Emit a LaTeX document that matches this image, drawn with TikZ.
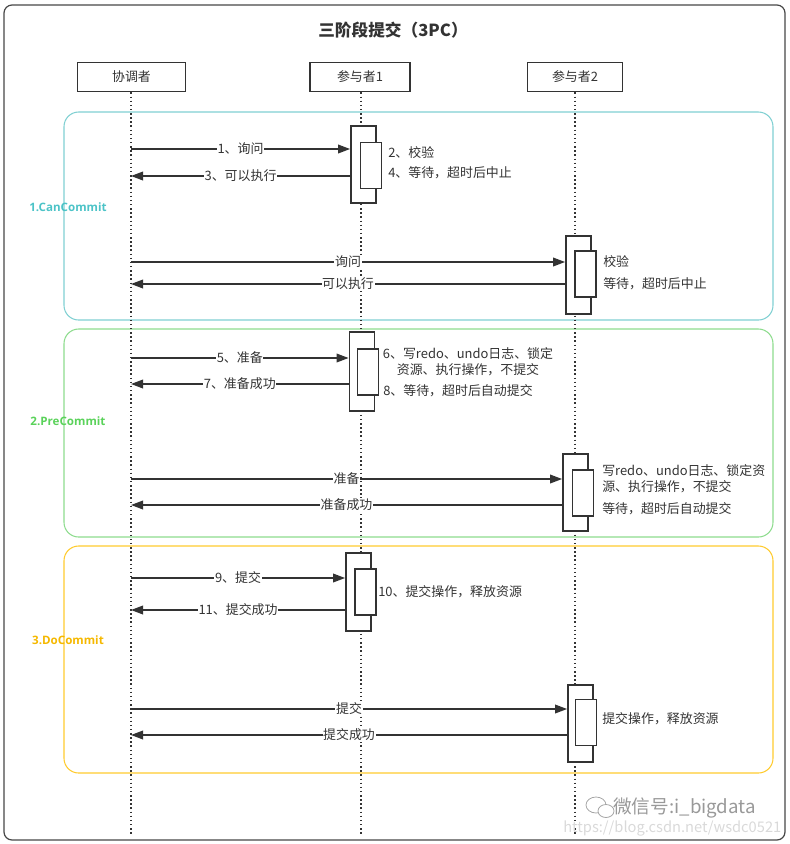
\documentclass[tikz,border=0pt]{standalone}
\usepackage{fontspec}
\setmainfont{Noto Sans CJK SC}
\newfontfamily\latinlbl{Open Sans}
\usetikzlibrary{arrows.meta}
\definecolor{ink}{HTML}{333333}
\definecolor{tealbox}{HTML}{80D0D2}
\definecolor{teallbl}{HTML}{4CC3C7}
\definecolor{greenbox}{HTML}{8EDC8E}
\definecolor{greenlbl}{HTML}{5AD25A}
\definecolor{yellowbox}{HTML}{FFCB2E}
\definecolor{yellowlbl}{HTML}{F5B800}
\tikzset{
  every node/.style={font=\fontsize{9.7pt}{12pt}\selectfont, text=ink},
  header/.style={draw=ink, line width=1.1pt, fill=white, minimum width=81pt, minimum height=22pt, inner sep=0pt},
  lifeline/.style={draw=ink, line width=1.1pt, dash pattern=on 1.1pt off 2pt},
  actouter/.style={draw=ink, line width=1.1pt, fill=white, inner sep=0pt, minimum width=19pt},
  actinner/.style={draw=ink, line width=1.1pt, fill=white, inner sep=0pt, minimum width=15.5pt, minimum height=34.5pt},
  msg/.style={draw=ink, line width=1.1pt, -{Triangle[length=9pt,width=6.5pt]}},
  msglbl/.style={fill=white, inner sep=0.5pt, midway},
  note/.style={anchor=west, inner sep=0pt},
  phase/.style={rounded corners=11pt, line width=0.8pt},
  phaselbl/.style={font=\latinlbl\bfseries\fontsize{8.7pt}{10pt}\selectfont, inner sep=0pt}
}
\begin{document}
\begin{tikzpicture}[x=0.75pt,y=-0.75pt]
\useasboundingbox (0,0) rectangle (790,844);
% outer frame
\draw[draw=ink!90, line width=0.9pt, rounded corners=6pt] (4,5) rectangle (785,840);
\node[font=\bfseries\fontsize{12.5pt}{14pt}\selectfont] (title) at (393,30) {三阶段提交（3PC）};

% phase boxes
\draw[phase, draw=tealbox] (64,112) rectangle (773,320);
\draw[phase, draw=greenbox] (64,329) rectangle (773,537);
\draw[phase, draw=yellowbox] (64,546) rectangle (773,773);

% headers
\node[header] (h0) at (131.5,77) {协调者};
\node[header, minimum width=75pt] (h1) at (360,77) {参与者1};
\node[header, minimum width=71pt] (h2) at (575,77) {参与者2};

% lifelines
\coordinate (e0) at (131,835);
\coordinate (e1) at (361,835);
\coordinate (e2) at (575,835);
\draw[lifeline] (h0.south -| e0) -- (e0);
\draw[lifeline] (h1.south -| e1) -- (e1);
\draw[lifeline] (h2.south -| e2) -- (e2);

% phase labels
\node[phaselbl, text=teallbl] (l1) at (68,207) {1.CanCommit};
\node[phaselbl, text=greenlbl] (l2) at (68,421) {2.PreCommit};
\node[phaselbl, text=yellowlbl] (l3) at (68,640) {3.DoCommit};

% ---------- Phase 1 ----------
\node[actouter, minimum height=58pt] (a11) at (363.5,164.5) {};
\node[actinner] (b11) at (371,165.5) {};
\coordinate (s11) at (131,149);
\coordinate (s12) at (131,176);
\draw[msg] (s11) -- (a11.west |- s11) node[msglbl] {1、询问};
\draw[msg] (a11.west |- s12) -- (s12) node[msglbl] {3、可以执行};
\node[note] (n11) at (388,153) {2、校验};
\node[note] (n12) at (388,173) {4、等待，超时后中止};

\node[actouter, minimum height=58.5pt] (a12) at (578.5,275) {};
\node[actinner] (b12) at (585.5,274) {};
\coordinate (s13) at (131,262);
\coordinate (s14) at (131,284);
\draw[msg] (s13) -- (a12.west |- s13) node[msglbl] {询问};
\draw[msg] (a12.west |- s14) -- (s14) node[msglbl] {可以执行};
\node[note] (n13) at (603,262) {校验};
\node[note] (n14) at (603,284) {等待，超时后中止};

% ---------- Phase 2 ----------
\node[actouter, minimum height=59pt] (a21) at (362,371.5) {};
\node[actinner] (b21) at (368,372) {};
\coordinate (s21) at (131,358);
\coordinate (s22) at (131,384);
\draw[msg] (s21) -- (a21.west |- s21) node[msglbl] {5、准备};
\draw[msg] (a21.west |- s22) -- (s22) node[msglbl] {7、准备成功};
\node[align=center, inner sep=0pt] (n21) at (468,362) {6、写redo、undo日志、锁定\\资源、执行操作，不提交};
\node[note] (n22) at (383,391) {8、等待，超时后自动提交};

\node[actouter, minimum height=58pt] (a22) at (575.5,492.5) {};
\node[actinner] (b22) at (583,493) {};
\coordinate (s23) at (131,479);
\coordinate (s24) at (131,505);
\draw[msg] (s23) -- (a22.west |- s23) node[msglbl] {准备};
\draw[msg] (a22.west |- s24) -- (s24) node[msglbl] {准备成功};
\node[note, align=left] (n23) at (602,479) {写redo、undo日志、锁定资\\源、执行操作，不提交};
\node[note] (n24) at (602,509) {等待，超时后自动提交};

% ---------- Phase 3 ----------
\node[actouter, minimum height=58.5pt] (a31) at (358.5,592) {};
\node[actinner] (b31) at (365.5,592) {};
\coordinate (s31) at (131,578);
\coordinate (s32) at (131,610);
\draw[msg] (s31) -- (a31.west |- s31) node[msglbl] {9、提交};
\draw[msg] (a31.west |- s32) -- (s32) node[msglbl] {11、提交成功};
\node[note] (n31) at (378,592) {10、提交操作，释放资源};

\node[actouter, minimum height=58pt] (a32) at (580.5,723.5) {};
\node[actinner] (b32) at (586,722.5) {};
\coordinate (s33) at (131,709);
\coordinate (s34) at (131,735);
\draw[msg] (s33) -- (a32.west |- s33) node[msglbl] {提交};
\draw[msg] (a32.west |- s34) -- (s34) node[msglbl] {提交成功};
\node[note] (n32) at (602,719) {提交操作，释放资源};

% watermark
\draw[gray!70, line width=0.6pt] (596,805) ellipse (10 and 8);
\draw[gray!70, line width=0.6pt, fill=white] (606,811) ellipse (8 and 6.5);
\node[anchor=west, inner sep=0pt, text=gray!80, font=\fontsize{14pt}{16pt}\selectfont] (wm1) at (613,808) {微信号:i\_bigdata};
\node[anchor=west, inner sep=0pt, text=gray!30, font=\fontsize{11pt}{13pt}\selectfont] (wm2) at (563,828) {https://blog.csdn.net/wsdc0521};
\end{tikzpicture}
\end{document}
